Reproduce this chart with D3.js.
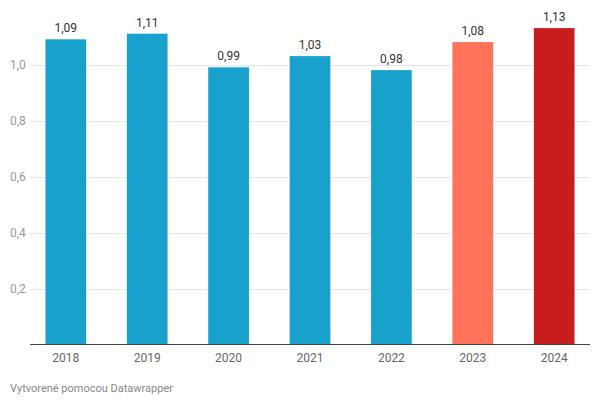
<!DOCTYPE html>
<html><head><meta charset="utf-8">
<script src="https://cdn.jsdelivr.net/npm/d3@7"></script>
<style>body{margin:0;background:#fff;font-family:Roboto,sans-serif}</style>
</head><body>
<svg id="c" width="600" height="406"></svg>
<script>
const years = ["2018","2019","2020","2021","2022","2023","2024"];
const values = [1.09,1.11,0.99,1.03,0.98,1.08,1.13];
const colors = ["#18a1cd","#18a1cd","#18a1cd","#18a1cd","#18a1cd","#ff735a","#c71e1d"];
const yTicks = [0.2,0.4,0.6,0.8,1.0];
const fmt = v => d3.format(".2f")(v).replace(".", ",");
const fmtTick = v => d3.format(".1f")(v).replace(".", ",");

const svg = d3.select("#c");
const x = d3.scaleBand().domain(years).range([30,590]).paddingInner(0.5).paddingOuter(0.19);
const y = d3.scaleLinear().domain([0,1]).range([344.5,64.5]);

svg.append("g").selectAll("line").data(yTicks).join("line")
  .attr("x1",30).attr("x2",590).attr("y1",d=>Math.round(y(d))+0.5).attr("y2",d=>Math.round(y(d))+0.5)
  .attr("stroke","#e6e6e6").attr("stroke-width",1);
svg.append("g").selectAll("text").data(yTicks).join("text")
  .attr("x",10).attr("y",d=>y(d)+4).text(fmtTick)
  .attr("font-size",12).attr("fill","#999");

svg.append("g").selectAll("rect").data(values).join("rect")
  .attr("x",(d,i)=>x(years[i])).attr("width",x.bandwidth())
  .attr("y",d=>y(d)).attr("height",d=>y(0)-y(d))
  .attr("fill",(d,i)=>colors[i]);

svg.append("g").selectAll("text").data(values).join("text")
  .attr("x",(d,i)=>x(years[i])+x.bandwidth()/2).attr("y",d=>y(d)-7)
  .attr("text-anchor","middle").attr("font-size",12).attr("fill","#333").text(fmt);

svg.append("line").attr("x1",30).attr("x2",590).attr("y1",344.5).attr("y2",344.5)
  .attr("stroke","#444").attr("stroke-width",1);

svg.append("g").selectAll("text").data(years).join("text")
  .attr("x",d=>x(d)+x.bandwidth()/2).attr("y",362)
  .attr("text-anchor","middle").attr("font-size",12).attr("fill","#666").text(d=>d);

svg.append("text").attr("x",10).attr("y",392).attr("font-size",11).attr("fill","#888")
  .text("Vytvorené pomocou Datawrapper");
</script>
</body></html>
